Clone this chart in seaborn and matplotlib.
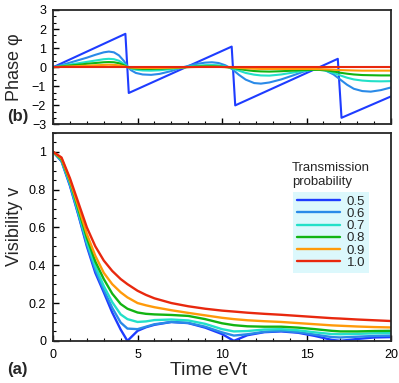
import matplotlib
matplotlib.use('Agg')
import matplotlib.pyplot as plt
import seaborn as sns
import pandas as pd
from matplotlib.ticker import MultipleLocator

# transmission probabilities and colours
labels = ['0.5', '0.6', '0.7', '0.8', '0.9', '1.0']
colors = ['#1e3cff', '#2a8ae8', '#22e0c8', '#12b412', '#ff9a0a', '#e8280e']

# visibility (panel a)
t_vis = [0, 0.5, 1, 1.5, 2, 2.5, 3, 3.5, 4, 4.4, 5, 5.5, 6, 7, 8, 9, 10, 10.7,
         11.5, 12.5, 13.5, 14.5, 15.5, 16.5, 17, 18, 19, 20]
vis_05 = [1.0, 0.95, 0.82, 0.665, 0.50, 0.36, 0.257, 0.15, 0.06, 0.0, 0.053, 0.072, 0.085, 0.10,
          0.094, 0.07, 0.036, 0.0, 0.03, 0.046, 0.05, 0.043, 0.026, 0.005, 0.0, 0.01, 0.018, 0.02]
vis_06 = [1.0, 0.952, 0.825, 0.67, 0.51, 0.375, 0.27, 0.175, 0.097, 0.065, 0.062, 0.075, 0.088, 0.10,
          0.095, 0.075, 0.045, 0.028, 0.035, 0.048, 0.053, 0.046, 0.033, 0.02, 0.018, 0.022, 0.026, 0.028]
vis_07 = [1.0, 0.955, 0.835, 0.68, 0.525, 0.395, 0.29, 0.205, 0.14, 0.115, 0.10, 0.103, 0.11, 0.113,
          0.108, 0.09, 0.062, 0.05, 0.052, 0.06, 0.062, 0.056, 0.045, 0.036, 0.035, 0.037, 0.04, 0.041]
vis_08 = [1.0, 0.96, 0.845, 0.695, 0.545, 0.42, 0.327, 0.25, 0.195, 0.17, 0.15, 0.143, 0.14, 0.137,
          0.132, 0.115, 0.093, 0.083, 0.077, 0.075, 0.075, 0.07, 0.062, 0.053, 0.05, 0.05, 0.052, 0.053]
vis_09 = [1.0, 0.965, 0.85, 0.71, 0.565, 0.45, 0.36, 0.30, 0.257, 0.23, 0.20, 0.188, 0.178, 0.162,
          0.148, 0.135, 0.122, 0.115, 0.109, 0.104, 0.10, 0.094, 0.088, 0.082, 0.08, 0.076, 0.073, 0.071]
vis_10 = [1.0, 0.97, 0.86, 0.73, 0.60, 0.50, 0.425, 0.37, 0.327, 0.30, 0.265, 0.243, 0.225, 0.20,
          0.183, 0.17, 0.16, 0.155, 0.149, 0.143, 0.138, 0.132, 0.126, 0.12, 0.118, 0.113, 0.109, 0.105]

# phase (panel b)
t_saw = [0, 4.28, 4.48, 10.57, 10.78, 16.85, 17.07, 20]
phase_05 = [0, 1.75, -1.35, 1.08, -2.0, 0.44, -2.65, -1.53]
t_ph = [0, 0.5, 1, 1.5, 2, 2.5, 3, 3.3, 3.6, 3.9, 4.2, 4.4, 4.6, 4.9, 5.3, 5.8, 6.3, 7, 7.7, 8.4,
        9, 9.4, 9.8, 10.2, 10.6, 11, 11.4, 11.9, 12.3, 12.8, 13.5, 14.2, 14.8, 15.3, 15.7, 16.1,
        16.6, 17, 17.4, 17.8, 18.3, 18.8, 19.4, 20]
phase_06 = [0, 0.11, 0.24, 0.37, 0.5, 0.65, 0.78, 0.82, 0.78, 0.62, 0.32, 0.05, -0.15, -0.3, -0.38,
            -0.40, -0.35, -0.2, 0.0, 0.16, 0.24, 0.26, 0.22, 0.1, -0.1, -0.4, -0.65, -0.83, -0.86,
            -0.80, -0.64, -0.43, -0.24, -0.13, -0.1, -0.16, -0.38, -0.65, -0.92, -1.13, -1.25,
            -1.28, -1.2, -1.06]
phase_07 = [0, 0.07, 0.14, 0.21, 0.28, 0.35, 0.42, 0.44, 0.42, 0.34, 0.17, 0.03, -0.07, -0.13, -0.17,
            -0.18, -0.16, -0.1, -0.01, 0.07, 0.11, 0.12, 0.1, 0.04, -0.06, -0.18, -0.3, -0.39, -0.43,
            -0.44, -0.38, -0.28, -0.19, -0.14, -0.13, -0.17, -0.3, -0.43, -0.55, -0.64, -0.7, -0.73,
            -0.74, -0.73]
phase_08 = [0, 0.04, 0.09, 0.13, 0.18, 0.22, 0.26, 0.27, 0.26, 0.21, 0.1, 0.01, -0.04, -0.07, -0.09,
            -0.09, -0.08, -0.05, -0.01, 0.03, 0.05, 0.05, 0.04, 0.01, -0.03, -0.09, -0.15, -0.2, -0.22,
            -0.23, -0.21, -0.18, -0.15, -0.14, -0.14, -0.16, -0.22, -0.29, -0.34, -0.38, -0.41, -0.42,
            -0.43, -0.43]
phase_09 = [0, 0.02, 0.04, 0.06, 0.08, 0.1, 0.12, 0.13, 0.12, 0.1, 0.05, 0, -0.02, -0.03, -0.04,
            -0.04, -0.04, -0.03, -0.01, 0.01, 0.02, 0.02, 0.02, 0, -0.01, -0.04, -0.06, -0.08, -0.09,
            -0.09, -0.09, -0.09, -0.09, -0.09, -0.1, -0.11, -0.13, -0.15, -0.16, -0.17, -0.18, -0.18,
            -0.18, -0.18]
phase_10 = [0] * len(t_ph)

vis_series = [vis_05, vis_06, vis_07, vis_08, vis_09, vis_10]
ph_series = [phase_05, phase_06, phase_07, phase_08, phase_09, phase_10]

vis_rows = []
for lab, vals in zip(labels, vis_series):
    for t, v in zip(t_vis, vals):
        vis_rows.append({'t': t, 'v': v, 'T': lab})
vis_df = pd.DataFrame(vis_rows)

ph_rows = []
for lab, vals in zip(labels, ph_series):
    ts = t_saw if lab == '0.5' else t_ph
    for t, p in zip(ts, vals):
        ph_rows.append({'t': t, 'phi': p, 'T': lab})
ph_df = pd.DataFrame(ph_rows)

sns.set_style('ticks')
plt.rcParams['font.family'] = ['Liberation Sans', 'DejaVu Sans']
plt.rcParams['axes.linewidth'] = 1.3

palette = dict(zip(labels, colors))

fig = plt.figure(figsize=(3.99, 3.83), dpi=100)
ax_b = fig.add_axes([0.133, 0.675, 0.847, 0.299])
ax_a = fig.add_axes([0.133, 0.110, 0.847, 0.543])

sns.lineplot(data=ph_df, x='t', y='phi', hue='T', palette=palette, hue_order=labels,
             estimator=None, sort=False, lw=1.5, ax=ax_b, legend=False)
sns.lineplot(data=vis_df, x='t', y='v', hue='T', palette=palette, hue_order=labels,
             estimator=None, sort=False, lw=1.7, ax=ax_a)

for ax in (ax_a, ax_b):
    ax.set_xlim(0, 20)
    ax.xaxis.set_major_locator(MultipleLocator(5))
    ax.xaxis.set_minor_locator(MultipleLocator(1))
    ax.tick_params(which='both', direction='in', top=False, right=False,
                   labelsize=9, colors='black', pad=5)
    ax.tick_params(which='major', length=4, width=1)
    ax.tick_params(which='minor', length=2.5, width=0.8)

ax_b.set_ylim(-3, 3)
ax_b.yaxis.set_major_locator(MultipleLocator(1))
ax_b.yaxis.set_minor_locator(MultipleLocator(1 / 3))
ax_b.set_xticklabels([])
ax_b.set_xlabel('')
ax_b.set_ylabel('Phase φ', fontsize=13)
ax_b.yaxis.set_label_coords(-0.09, 0.5)

ax_a.set_ylim(0, 1.1)
ax_a.yaxis.set_major_locator(MultipleLocator(0.2))
ax_a.yaxis.set_minor_locator(MultipleLocator(0.05))
ax_a.set_yticks([0, 0.2, 0.4, 0.6, 0.8, 1.0])
ax_a.set_yticklabels(['0', '0.2', '0.4', '0.6', '0.8', '1'])
ax_a.set_xticks([0, 5, 10, 15, 20])
ax_a.set_xticklabels(['0', '5', '10', '15', '20'])
ax_a.tick_params(axis='x', which='major', pad=6)
ax_a.set_xlabel('Time eVt', fontsize=14, labelpad=0)
ax_a.xaxis.set_label_coords(0.46, -0.1)
ax_a.set_ylabel('Visibility v', fontsize=13)
ax_a.yaxis.set_label_coords(-0.09, 0.55)

leg = ax_a.legend(loc='upper left', bbox_to_anchor=(0.709, 0.718), borderaxespad=0,
                  fontsize=9.5, frameon=True, fancybox=False, framealpha=1,
                  handlelength=3.3, handletextpad=0.5, labelspacing=0.0, borderpad=0.3)
leg.get_frame().set_facecolor('#dcf8fc')
leg.get_frame().set_edgecolor('none')
for line in leg.get_lines():
    line.set_linewidth(1.7)

ax_a.text(0.707, 0.86, 'Transmission\nprobability', transform=ax_a.transAxes,
          fontsize=9.5, va='top', ha='left', linespacing=1.2)

fig.text(0.018, 0.695, '(b)', fontsize=12, fontweight='bold', va='center')
fig.text(0.018, 0.035, '(a)', fontsize=12, fontweight='bold', va='center')

fig.savefig('out.png', dpi=100)
